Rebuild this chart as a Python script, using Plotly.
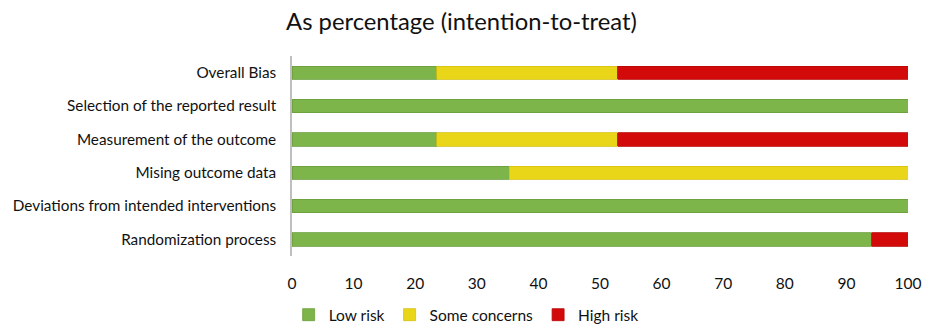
import plotly.graph_objects as go

categories = ["Randomization process", "Deviations from intended interventions",
              "Mising outcome data", "Measurement of the outcome",
              "Selection of the reported result", "Overall Bias"]
low_risk = [94.1, 100, 35.3, 23.5, 100, 23.5]
some_concerns = [0, 0, 64.7, 29.4, 0, 29.4]
high_risk = [5.9, 0, 0, 47.1, 0, 47.1]
x_ticks = [0, 10, 20, 30, 40, 50, 60, 70, 80, 90, 100]

fig = go.Figure()
for name, vals, col, line in [("Low risk", low_risk, "#7DB54A", "#6A9E3C"),
                              ("Some concerns", some_concerns, "#EAD619", "#D4C010"),
                              ("High risk", high_risk, "#D20A0A", "#B80808")]:
    fig.add_trace(go.Bar(y=categories, x=vals, name=name, orientation="h",
                         marker=dict(color=col, line=dict(color=line, width=0.8))))

fig.update_layout(
    barmode="stack", bargap=0.6,
    width=935, height=332,
    margin=dict(l=284, r=35, t=48, b=84, autoexpand=False),
    paper_bgcolor="white", plot_bgcolor="white",
    font=dict(family="Lato, Open Sans, sans-serif", size=15.3, color="#111"),
    title=dict(text="As percentage (intention-to-treat)", x=0.485, xanchor="center",
               y=0.96, yanchor="middle", font=dict(size=23.8, color="#111")),
    xaxis=dict(range=[0, 100], tickvals=x_ticks, showgrid=False, zeroline=False,
               showline=False, ticks="", tickfont=dict(size=15.5),
               ticklabelstandoff=16, automargin=False),
    yaxis=dict(showline=True, linecolor="#BFBFBF", linewidth=1.5, ticks="",
               ticklabelstandoff=11, tickfont=dict(size=15.3), automargin=False),
    legend=dict(orientation="h", xref="container", x=0.49, xanchor="center",
                yref="container", y=0.075, yanchor="middle",
                font=dict(size=15.5), traceorder="normal", itemwidth=30),
    showlegend=True,
)
fig.write_html("out.html")
